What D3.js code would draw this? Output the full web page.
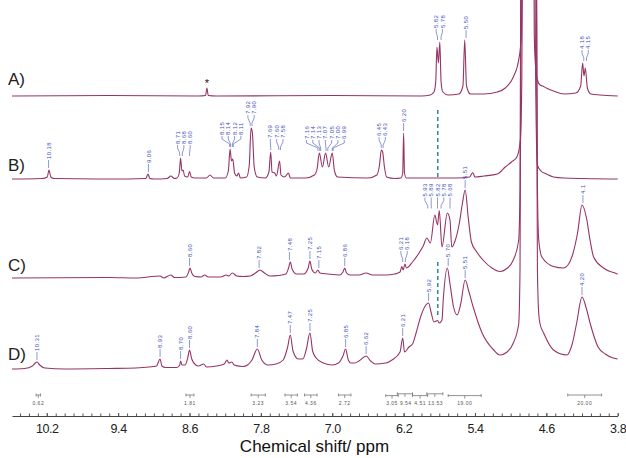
<!DOCTYPE html>
<html>
<head>
<meta charset="utf-8">
<script src="https://cdn.jsdelivr.net/npm/d3@7"></script>
<style>
  html, body { margin: 0; padding: 0; background: #fff; }
  svg { display: block; }
</style>
</head>
<body>
<div id="app"></div>
<script>
// [ppm, height above baseline in px]
const specA = [[10.59,0],[9.5,0.5],[8.5,0],[8.42,0.5],[8.405,8],[8.39,0.5],[8.3,0],[7.0,0.5],[6.0,0],[5.9,1],[5.86,4],[5.84,14],[5.826,49],[5.81,33],[5.794,54],[5.78,14],[5.76,4],[5.7,1],[5.58,2],[5.535,10],[5.515,56],[5.495,10],[5.45,2],[5.3,2],[5.15,4],[5.06,8],[4.97,19],[4.91,36],[4.88,60],[4.87,150],[4.84,500],[4.8,700],[4.76,500],[4.74,150],[4.735,60],[4.72,29],[4.7,16],[4.67,11],[4.64,10],[4.6,8],[4.52,5],[4.4,2],[4.27,3],[4.215,10],[4.193,33],[4.178,20],[4.163,28],[4.14,8],[4.1,2],[4.0,1],[3.8,0]];

const specB = [[10.59,0],[10.25,0.5],[10.195,2],[10.175,9],[10.155,2],[10.12,0.5],[9.5,0],[9.09,0.5],[9.065,5],[9.045,0.5],[9.0,0],[8.85,0.5],[8.81,3],[8.77,0.5],[8.74,1],[8.715,6],[8.7,21],[8.685,8],[8.672,9],[8.655,3],[8.62,2],[8.6,7.5],[8.58,2],[8.54,1],[8.41,1],[8.37,4],[8.33,1],[8.2,1],[8.165,8],[8.145,30],[8.13,18],[8.115,20],[8.095,6],[8.07,3],[8.05,6],[8.03,1],[7.96,2],[7.93,14],[7.91,51],[7.895,46],[7.875,12],[7.84,2],[7.75,1],[7.71,7],[7.69,27],[7.675,7],[7.645,6],[7.625,3],[7.59,18],[7.575,4],[7.535,2],[7.49,6],[7.47,1],[7.3,1],[7.2,4],[7.17,10],[7.145,26],[7.11,12],[7.075,26],[7.04,12],[7.0,26],[6.975,8],[6.94,2],[6.6,1],[6.5,4],[6.47,14],[6.45,29],[6.435,27],[6.415,12],[6.39,2],[6.3,0.5],[6.23,1],[6.21,6],[6.2,46],[6.19,6],[6.17,1],[5.8,1],[5.6,1],[5.46,2],[5.425,6.5],[5.4,2],[5.3,3],[5.15,5],[5.06,12],[4.99,17],[4.93,22],[4.89,40],[4.875,100],[4.865,250],[4.8,800],[4.73,250],[4.72,100],[4.7,14],[4.66,8],[4.6,5],[4.52,2],[4.4,1],[3.8,0]];

const specC = [[10.59,0],[9.5,0.5],[9.2,0],[8.93,2],[8.89,0],[8.81,3],[8.77,0.5],[8.64,1],[8.61,6],[8.595,10],[8.575,5],[8.54,1.5],[8.47,1],[8.43,3],[8.39,1],[8.25,1],[8.19,3],[8.16,2],[8.12,5],[8.07,2],[8.0,1.5],[7.92,2],[7.86,5],[7.81,8],[7.76,5],[7.7,2],[7.6,2.5],[7.52,4],[7.49,10],[7.47,16],[7.45,9],[7.4,4],[7.32,4],[7.27,10],[7.25,17],[7.23,9],[7.19,5],[7.16,8],[7.14,5],[7.05,4],[6.92,3],[6.88,6],[6.86,10],[6.84,5],[6.8,3],[6.7,3],[6.62,5],[6.55,3],[6.4,3],[6.3,4],[6.24,6],[6.22,11.5],[6.205,8],[6.185,14],[6.17,10],[6.1,16],[6.02,26],[5.98,32],[5.94,40],[5.9,35],[5.85,63],[5.82,53],[5.8,67.5],[5.77,31],[5.71,65],[5.68,58],[5.66,31],[5.62,38],[5.575,55],[5.54,75],[5.51,88],[5.475,60],[5.44,36],[5.38,26],[5.3,17],[5.21,10],[5.12,6.5],[5.05,9],[4.97,18],[4.91,38],[4.895,90],[4.885,350],[4.8,900],[4.71,350],[4.7,90],[4.685,38],[4.65,21],[4.52,11.5],[4.41,10],[4.35,14],[4.3,25],[4.25,45],[4.2,73],[4.15,60],[4.11,38],[4.07,21],[3.96,10],[3.83,5],[3.8,4]];

const specD = [[10.59,0],[10.45,0.5],[10.36,3],[10.33,6],[10.31,7],[10.28,4],[10.22,1],[10.0,0],[9.5,0.5],[9.2,1],[9.05,2],[8.97,3],[8.93,10],[8.91,3],[8.87,1.5],[8.74,1.5],[8.71,4],[8.7,8],[8.685,4],[8.65,4],[8.62,11],[8.6,19],[8.575,10],[8.53,4],[8.5,3],[8.44,5],[8.41,2],[8.3,3],[8.21,5],[8.18,9],[8.16,6],[8.125,7],[8.1,4],[8.0,2.5],[7.95,4],[7.9,9],[7.84,20],[7.79,9],[7.72,4],[7.63,5],[7.55,9],[7.5,22],[7.47,34],[7.44,18],[7.38,10],[7.33,10],[7.29,20],[7.25,36],[7.22,18],[7.18,11],[7.1,6],[7.0,4],[6.93,6],[6.88,13],[6.85,20],[6.82,9],[6.79,6],[6.75,6],[6.7,8],[6.62,13],[6.57,8],[6.52,5],[6.4,6],[6.33,9],[6.24,17],[6.21,31],[6.19,17],[6.14,22],[6.1,25],[6.06,36],[6.01,52],[5.95,64],[5.92,66],[5.89,56],[5.86,47],[5.82,48.5],[5.8,46],[5.77,49],[5.755,70],[5.71,101],[5.68,85],[5.64,62],[5.6,54],[5.56,65],[5.51,89],[5.47,78],[5.42,62],[5.32,36],[5.19,19],[5.12,14],[5.04,17],[4.97,26],[4.91,45],[4.895,100],[4.885,350],[4.8,900],[4.71,350],[4.7,100],[4.685,55],[4.67,45],[4.63,36],[4.52,19],[4.37,14],[4.31,25],[4.26,46],[4.2,72],[4.15,60],[4.11,46],[4.02,22],[3.94,15],[3.85,11],[3.8,10]];

// peak labels, grouped as printed (a group shares one connector fan)
const labelsA = [["5.82","5.78"],["5.50"],["4.18","4.15"]];
const labelsB = [["10.18"],["9.06"],["8.71","8.68","8.60"],["8.15","8.14","8.12","8.11"],["7.92","7.90"],["7.69","7.60","7.58"],["7.16","7.14","7.13","7.07","7.05","7.00","6.99"],["6.45","6.43"],["6.20"]];
const labelsC = [["8.60"],["7.82"],["7.48"],["7.25"],["7.15"],["6.86"],["6.21","6.18"],["5.93","5.89","5.82","5.78","5.68"],["5.51"],[["4.1",4.19]]];
const labelsD = [["10.31"],["8.93"],["8.70"],["8.60"],["7.84"],["7.47"],["7.25"],["6.85"],["6.62"],["6.21"],["5.92"],["5.70"],["5.51"],["4.20"]];

const integralRanges = [[10.32,10.27],[8.64,8.55],[7.91,7.75],[7.53,7.39],[7.31,7.17],[6.93,6.79],[6.4,6.26],[6.27,6.1],[6.1,5.93],[5.94,5.76],[5.7,5.33],[4.36,3.98]];
const integralValues = ["0.62","1.81","3.23","3.54","4.36","2.72","3.05","9.54","4.51","13.53","19.00","20.00"];

const majorTicks = [10.2, 9.4, 8.6, 7.8, 7.0, 6.2, 5.4, 4.6, 3.8];

// green dashed guide at 5.82 ppm: [spectrum, from height, to height]
const guideMarks = [["B", 2, 71], ["D", 54, 109]];
const guidePpm = 5.817;

const WIDTH = 626;
const HEIGHT = 458;
const LINE_COLOR = "#963466";
const LABEL_COLOR = "#4452b8";

const svg = d3.select("#app").append("svg")
  .attr("width", WIDTH).attr("height", HEIGHT)
  .attr("viewBox", `0 0 ${WIDTH} ${HEIGHT}`)
  .style("font-family", "'Liberation Sans', Arial, sans-serif");

svg.append("rect").attr("width", WIDTH).attr("height", HEIGHT).attr("fill", "#fff");

const x = d3.scaleLinear().domain([10.59, 3.8]).range([12, 617.7]);

const spectra = [
  { name: "A)", base: 96, nameY: 85, data: specA, labels: labelsA },
  { name: "B)", base: 179, nameY: 171, data: specB, labels: labelsB },
  { name: "C)", base: 278, nameY: 271, data: specC, labels: labelsC },
  { name: "D)", base: 369, nameY: 360, data: specD, labels: labelsD },
];
spectra.forEach((s) => {
  s.y = d3.scaleLinear().domain([0, 100]).range([s.base, s.base - 100]);
});

function peakTop(data, ppm) {
  const near = data.filter((d) => Math.abs(d[0] - ppm) <= 0.03);
  return d3.max(near, (d) => d[1]) || 0;
}

function drawSpectrum(s) {
  const g = svg.append("g").attr("class", "spectrum");

  g.append("path")
    .datum(s.data)
    .attr("fill", "none")
    .attr("stroke", LINE_COLOR)
    .attr("stroke-width", 1.1)
    .attr("stroke-linejoin", "round")
    .attr("d", d3.line().x((d) => x(d[0])).y((d) => s.y(d[1])).curve(d3.curveMonotoneX));

  g.append("text")
    .attr("x", 8)
    .attr("y", s.nameY)
    .attr("font-size", 17)
    .attr("fill", "#222")
    .text(s.name);

  const lg = svg.append("g").attr("class", "peak-labels");
  s.labels.forEach((group) => {
    const items = group.map((l) => Array.isArray(l) ? { text: l[0], ppm: l[1] } : { text: l, ppm: +l });
    const top = d3.max(items, (d) => peakTop(s.data, d.ppm));
    const y1 = s.y(top) - 2;
    const multi = items.length > 1;
    const yT = y1 - (multi ? 12 : 9);
    const xm = d3.mean(items, (d) => x(d.ppm));
    items.forEach((d, i) => {
      const px = x(d.ppm);
      const tx = multi ? xm + (i - (items.length - 1) / 2) * 6.3 : px;
      lg.append("path")
        .attr("fill", "none")
        .attr("stroke", LABEL_COLOR)
        .attr("stroke-width", 0.6)
        .attr("d", multi
          ? `M${tx},${yT + 1}V${yT + 4}L${px},${y1 - 3}V${y1}`
          : `M${tx},${yT + 1}V${y1}`);
      lg.append("text")
        .attr("transform", `translate(${tx},${yT}) rotate(-90)`)
        .attr("dy", "0.35em")
        .attr("font-size", 6)
        .attr("letter-spacing", 0.4)
        .attr("fill", LABEL_COLOR)
        .text(d.text);
    });
  });
}

spectra.forEach(drawSpectrum);

// impurity star on A
const sA = spectra[0];
svg.append("text")
  .attr("x", x(8.405)).attr("y", sA.y(peakTop(specA, 8.405)) - 1)
  .attr("text-anchor", "middle")
  .attr("font-size", 11)
  .attr("fill", "#111")
  .text("*");

// green dashed guides
guideMarks.forEach(([name, from, to]) => {
  const s = spectra.find((d) => d.name.startsWith(name));
  svg.append("line")
    .attr("x1", x(guidePpm)).attr("x2", x(guidePpm))
    .attr("y1", s.y(from)).attr("y2", s.y(to))
    .attr("stroke", "#2e8c8c")
    .attr("stroke-width", 1.5)
    .attr("stroke-dasharray", "4,3");
});

// integrals
const ig = svg.append("g").attr("class", "integrals").attr("stroke", "#666").attr("stroke-width", 0.7);
let lastRight = -Infinity;
integralRanges.forEach(([a, b], i) => {
  const x1 = x(a), x2 = x(b), xm = (x1 + x2) / 2;
  const yy = 395 + (i >= 6 && i <= 10 ? (i % 2 ? -1.2 : 0.6) : 0);
  ig.append("path")
    .attr("fill", "none")
    .attr("d", `M${x1},${yy - 1.5}V${yy + 1.5}M${x1},${yy}H${x2}M${x2},${yy - 1.5}V${yy + 1.5}M${xm},${yy}V${yy + 3}`);
  const t = svg.append("text")
    .attr("y", 405)
    .attr("text-anchor", "middle")
    .attr("font-size", 5)
    .attr("letter-spacing", 0.5)
    .attr("fill", "#555")
    .text(integralValues[i]);
  const w = t.node().getComputedTextLength();
  const cx = Math.max(xm, lastRight + 2 + w / 2);
  t.attr("x", cx);
  lastRight = cx + w / 2;
});

// axis
const axisY = 416;
const minorAxis = d3.axisBottom(x)
  .tickValues(d3.range(105, 37, -1).map((v) => v / 10))
  .tickSizeInner(-2.5)
  .tickSizeOuter(0)
  .tickFormat("");
const majorAxis = d3.axisBottom(x)
  .tickValues(majorTicks)
  .tickSizeInner(-3)
  .tickSizeOuter(0)
  .tickPadding(8)
  .tickFormat(d3.format(".1f"));

const gMinor = svg.append("g").attr("transform", `translate(0,${axisY})`).call(minorAxis);
gMinor.select(".domain").attr("stroke", "#444");
gMinor.selectAll(".tick line").attr("stroke", "#555");

const gMajor = svg.append("g").attr("transform", `translate(0,${axisY})`).call(majorAxis);
gMajor.select(".domain").remove();
gMajor.selectAll(".tick line").attr("stroke", "#555");
gMajor.selectAll(".tick text")
  .attr("font-size", 12.5)
  .attr("font-family", "'Liberation Sans', Arial, sans-serif")
  .attr("letter-spacing", -0.4)
  .attr("fill", "#222");

svg.append("text")
  .attr("x", 314.5).attr("y", 452)
  .attr("text-anchor", "middle")
  .attr("font-size", 17)
  .attr("fill", "#111")
  .text("Chemical shift/ ppm");
</script>
</body>
</html>
